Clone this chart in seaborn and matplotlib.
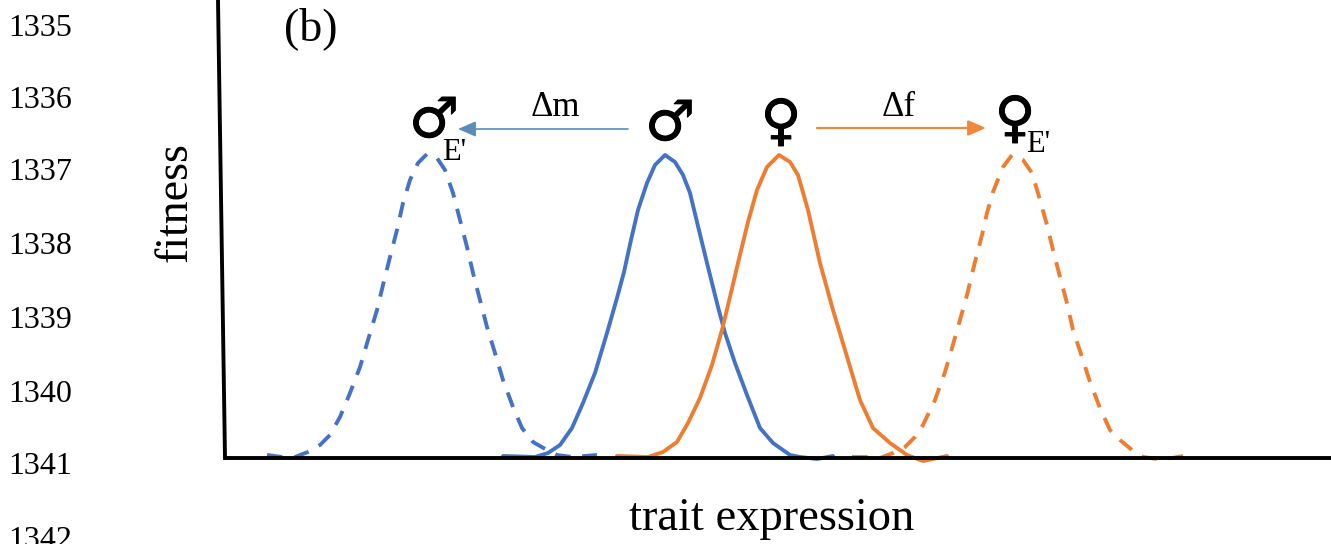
import matplotlib
matplotlib.use("Agg")
import matplotlib.pyplot as plt
import matplotlib.patheffects as pe
import seaborn as sns

sns.set_style("white")
plt.rcParams["font.family"] = ["Liberation Serif", "DejaVu Sans"]
plt.rcParams["text.color"] = "black"

# everything, in image pixels
male_x = [503, 535, 548, 560, 572, 583, 595, 607, 617, 624, 631, 638, 647, 655, 665, 675, 683, 690, 697, 707, 718, 725, 735, 747, 760, 773, 790, 800, 817, 833]
male_y = [456, 457, 453, 445, 428, 403, 373, 333, 298, 272, 240, 210, 183, 165, 155, 162, 175, 193, 222, 263, 307, 333, 363, 395, 428, 443, 455, 457, 459, 456]

female_x = [617, 648, 663, 677, 688, 700, 712, 722, 730, 738, 748, 757, 767, 779, 790, 798, 808, 820, 833, 842, 860, 873, 890, 907, 923, 947]
female_y = [456, 457, 452, 442, 423, 398, 365, 330, 297, 263, 222, 190, 167, 155, 162, 175, 210, 263, 310, 340, 400, 428, 443, 455, 461, 456]

male_e_x = [267, 282, 295, 308, 320, 330, 340, 350, 360, 368, 377, 383, 390, 397, 403, 410, 418, 427, 437, 445, 453, 460, 467, 473, 480, 487, 495, 503, 513, 522, 533, 547, 557, 572, 597]
male_e_y = [455, 457, 457, 452, 445, 435, 417, 393, 367, 340, 310, 285, 257, 230, 203, 180, 163, 154, 158, 170, 193, 220, 247, 273, 300, 327, 353, 380, 407, 428, 442, 450, 455, 457, 455]

female_e_x = [852, 866, 880, 893, 905, 915, 923, 935, 945, 952, 960, 967, 975, 982, 987, 993, 1003, 1012, 1023, 1032, 1038, 1047, 1053, 1060, 1067, 1073, 1082, 1090, 1100, 1110, 1120, 1132, 1143, 1157, 1172, 1183]
female_e_y = [457, 457, 458, 453, 447, 437, 425, 400, 372, 348, 320, 295, 262, 235, 213, 192, 167, 155, 160, 173, 193, 225, 250, 277, 303, 330, 357, 382, 408, 430, 440, 450, 457, 459, 458, 456]

line_numbers = ["1335", "1336", "1337", "1338", "1339", "1340", "1341", "1342"]
line_number_y = [28, 100, 173, 247, 321, 395, 466, 540]

BLUE = "#4472C4"
ORANGE = "#ED7D31"

fig = plt.figure(figsize=(13.31, 5.44), dpi=100)
ax = fig.add_axes([0, 0, 1, 1])
ax.set_xlim(0, 1331)
ax.set_ylim(544, 0)
ax.axis("off")

sns.lineplot(x=male_x, y=male_y, color=BLUE, lw=2.8, sort=False, estimator=None, ax=ax)
sns.lineplot(x=female_x, y=female_y, color=ORANGE, lw=2.8, sort=False, estimator=None, ax=ax)
sns.lineplot(x=male_e_x, y=male_e_y, color=BLUE, lw=2.8, linestyle=(0, (4.0, 3.0)), sort=False, estimator=None, ax=ax)
sns.lineplot(x=female_e_x, y=female_e_y, color=ORANGE, lw=2.8, linestyle=(0, (4.0, 3.0)), sort=False, estimator=None, ax=ax)

# axes of the drawing, left one leans a little
ax.plot([218, 225, 225, 1331], [0, 458, 458, 458], color="black", lw=2.8, solid_joinstyle="miter")

for lab, y in zip(line_numbers, line_number_y):
    ax.text(8, y, lab, fontsize=23, ha="left", va="center")

ax.text(284, 29, "(b)", fontsize=33, ha="left", va="center")
ax.text(175, 202, "fitness", fontsize=33, rotation=90, ha="center", va="center")
ax.text(772, 519, "trait expression", fontsize=33.5, ha="center", va="center")

ax.annotate("", xy=(458, 129), xytext=(628, 129),
            arrowprops=dict(arrowstyle="-|>,head_length=1.08,head_width=0.47", color="#5B8DB8", lw=1.2, shrinkA=0, shrinkB=0))
ax.annotate("", xy=(986, 128), xytext=(817, 128),
            arrowprops=dict(arrowstyle="-|>,head_length=1.08,head_width=0.47", color="#F0873C", lw=1.6, shrinkA=0, shrinkB=0))
ax.text(555, 108, "Δm", fontsize=25, ha="center", va="center")
ax.text(899, 108, "Δf", fontsize=25, ha="center", va="center")

sym = dict(family="DejaVu Sans", fontsize=40, ha="center", va="center", color="black",
           path_effects=[pe.withStroke(linewidth=0.7, foreground="black")])
ax.text(434, 122, "♂", **sym)
ax.text(670, 125, "♂", **sym)
ax.text(781, 124, "♀", **sym)
ax.text(1015, 121, "♀", **sym)
ax.text(454, 152, "E'", fontsize=22, ha="center", va="center")
ax.text(1038, 144, "E'", fontsize=22, ha="center", va="center")

fig.savefig("out.png", dpi=100)
